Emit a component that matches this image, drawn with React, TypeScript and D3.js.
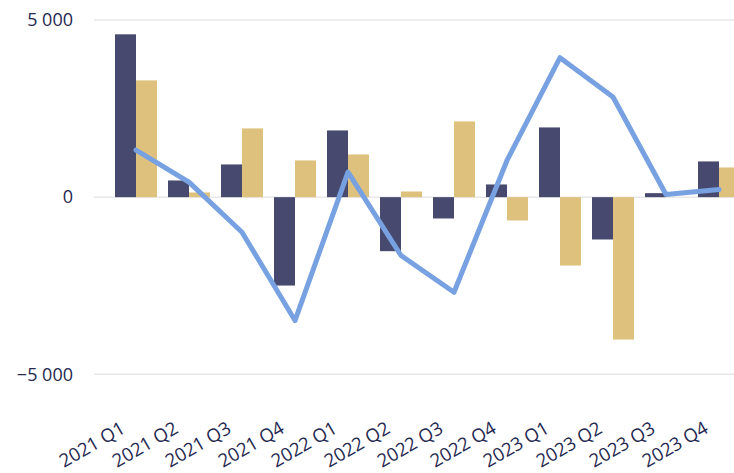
import React from "react";
import * as d3 from "d3";

const categories = ["2021 Q1","2021 Q2","2021 Q3","2021 Q4","2022 Q1","2022 Q2","2022 Q3","2022 Q4","2023 Q1","2023 Q2","2023 Q3","2023 Q4"];
const seriesA = [4596, 471, 923, -2495, 1883, -1525, -602, 358, 1968, -1195, 113, 1008];
const seriesB = [3296, 132, 1940, 1036, 1205, 160, 2138, -659, -1930, -4020, 0, 838];
const lineValues = [1328, 424, -990, -3483, 706, -1647, -2684, 1036, 3937, 2825, 76, 217];
const yTicks = [-5000, 0, 5000];

const W = 734, H = 473;
const colA = "#474A6E", colB = "#DFC17E", colLine = "#77A1E0", textCol = "#252850";

export default function App() {
  const y = d3.scaleLinear().domain([-5000, 5000]).range([374.3, 20]);
  const x = d3.scalePoint<string>().domain(categories).range([136, 136 + 53 * 11]);
  const cx = (i: number) => x(categories[i]) as number;
  const bw = 21;
  const fmt = (v: number) => d3.format(",")(v).replace(/,/g, " ");
  const line = d3.line<number>().x((_, i) => cx(i)).y(d => y(d));
  return (
    <svg width={W} height={H} style={{ position: "absolute", left: 0, top: 0, fontFamily: "'Open Sans', sans-serif" }}>
      <rect width={W} height={H} fill="#fff" />
      {yTicks.map(t => (
        <g key={t}>
          <line x1={94} x2={W} y1={y(t)} y2={y(t)} stroke="#E8E8E8" strokeWidth={1.5} />
          <text x={73} y={y(t)} dy="0.35em" textAnchor="end" fontSize={18} fill={textCol}>{fmt(t)}</text>
        </g>
      ))}
      {categories.map((c, i) => {
        const a = seriesA[i], b = seriesB[i];
        return (
          <g key={c}>
            <rect x={cx(i) - bw} width={bw} y={Math.min(y(a), y(0))} height={Math.abs(y(a) - y(0))} fill={colA} />
            <rect x={cx(i)} width={bw} y={Math.min(y(b), y(0))} height={Math.abs(y(b) - y(0))} fill={colB} />
          </g>
        );
      })}
      <path d={line(lineValues) || ""} fill="none" stroke={colLine} strokeWidth={5} strokeLinejoin="round" strokeLinecap="round" />
      {categories.map((c, i) => (
        <text key={c} transform={`translate(${cx(i) - 9.5},${432}) rotate(-30)`} textAnchor="end" fontSize={18.5} fill={textCol}>{c}</text>
      ))}
    </svg>
  );
}
